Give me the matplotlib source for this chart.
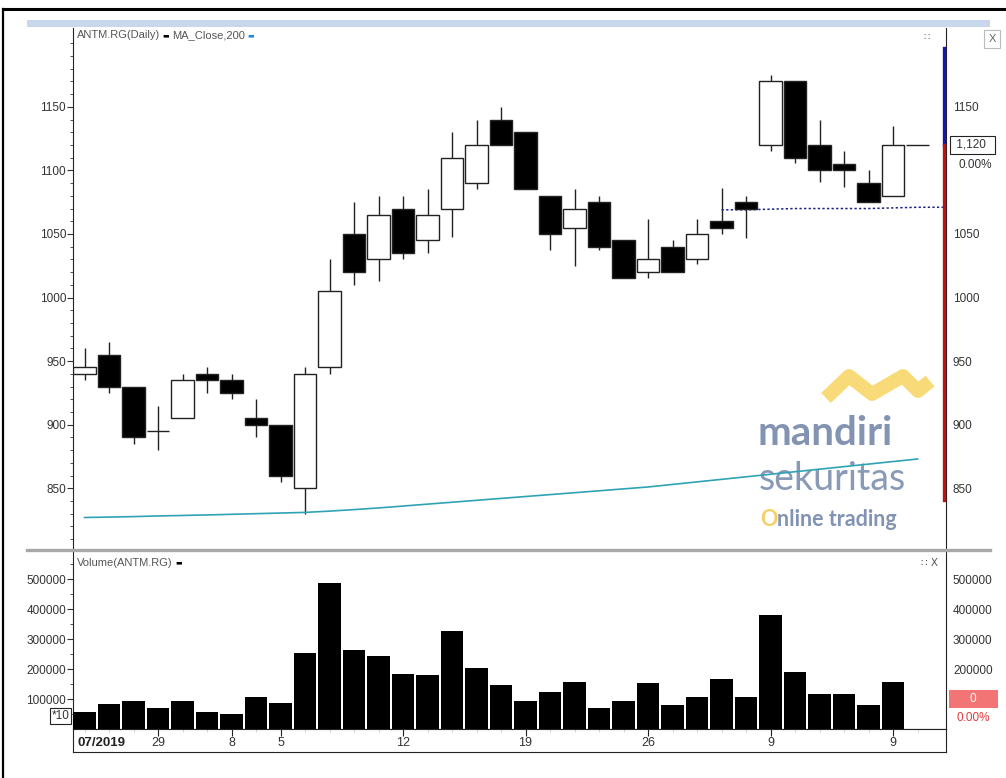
import matplotlib
matplotlib.use('Agg')
import numpy as np
import matplotlib.pyplot as plt
import matplotlib.transforms as mtransforms
from matplotlib.lines import Line2D
from matplotlib.patches import Rectangle

plt.rcParams['font.family'] = ['Liberation Sans Narrow', 'Liberation Sans', 'DejaVu Sans']

# daily candles, ANTM.RG (last slot = today, no trade yet)
opens = [940, 955, 930, 895, 905, 940, 935, 905, 900, 850, 945, 1050, 1030, 1070, 1045, 1070, 1090,
         1140, 1130, 1080, 1055, 1075, 1045, 1020, 1040, 1030, 1060, 1075, 1120, 1170, 1120, 1105,
         1090, 1080, 1120]
highs = [960, 965, 930, 915, 940, 945, 940, 920, 900, 945, 1030, 1075, 1080, 1080, 1085, 1130, 1140,
         1150, 1130, 1080, 1085, 1080, 1045, 1062, 1045, 1062, 1086, 1080, 1175, 1170, 1140, 1115,
         1100, 1135, 1120]
lows = [935, 925, 885, 880, 905, 925, 920, 890, 855, 830, 940, 1010, 1013, 1030, 1035, 1048, 1085,
        1120, 1085, 1037, 1025, 1037, 1015, 1015, 1020, 1026, 1050, 1047, 1115, 1106, 1091, 1087,
        1075, 1080, 1120]
closes = [945, 930, 890, 895, 935, 935, 925, 900, 860, 940, 1005, 1020, 1065, 1035, 1065, 1110, 1120,
          1120, 1085, 1050, 1070, 1040, 1015, 1030, 1020, 1050, 1055, 1070, 1170, 1110, 1100, 1100,
          1075, 1120, 1120]
volumes = [56000, 83000, 92000, 69000, 92000, 56000, 51000, 107000, 88000, 252000, 487000, 262000,
           243000, 183000, 179000, 327000, 203000, 148000, 92000, 124000, 157000, 69000, 92000,
           152000, 79000, 107000, 167000, 107000, 381000, 189000, 116000, 116000, 79000, 157000, 0]
ma200 = [827, 827.3, 827.7, 828.2, 828.6, 829, 829.5, 830, 830.5, 831, 832, 833.2, 834.5, 836,
         837.5, 839, 840.5, 842, 843.5, 845, 846.5, 848, 849.5, 851, 853, 855, 857, 859, 861, 863,
         865, 867, 869, 871, 873]
dotted_idx = [26, 27, 28, 29, 30, 31, 32, 33, 34, 35.1]
dotted_vals = [1069, 1069, 1069.5, 1070, 1070, 1070, 1070, 1070.5, 1071, 1071]

last_price = 1120
range_top = 1196
range_bottom = 841

date_ticks = [3, 6, 8, 13, 18, 23, 28, 33]
date_labels = ['29', '8', '5', '12', '19', '26', '9', '9']
price_ticks = [850, 900, 950, 1000, 1050, 1100, 1150]
vol_ticks = [100000, 200000, 300000, 400000, 500000]

W, H = 1006, 778
fig = plt.figure(figsize=(W / 100, H / 100), dpi=100)
fig.patch.set_facecolor('white')


def rect(x0, y0, x1, y1):
    # pixel box (from top-left) -> figure fractions
    return [x0 / W, 1 - y1 / H, (x1 - x0) / W, (y1 - y0) / H]


ax = fig.add_axes(rect(73, 28, 946, 548))
axv = fig.add_axes(rect(73, 552, 946, 729))
axd = fig.add_axes(rect(73, 729, 946, 752))

idx = np.arange(len(opens))
xlim = (-0.47, 35.16)
txt = '#333333'


def style_yaxis(a, major, minor, labels_left, labels_right):
    # ticks on both sides; right-hand labels come from a twin so some can stay hidden
    a.set_yticks(major)
    a.set_yticklabels(labels_left)
    a.set_yticks(minor, minor=True)
    a.tick_params(axis='y', which='both', left=True, right=True, direction='out',
                  labelsize=8.5, colors=txt, pad=1)
    a.tick_params(axis='y', which='major', length=4)
    a.tick_params(axis='y', which='minor', length=2)
    r = a.twinx()
    r.set_ylim(a.get_ylim())
    r.set_yticks(major)
    r.set_yticklabels(labels_right)
    r.tick_params(axis='y', which='both', length=0, labelsize=8.5, colors=txt, pad=5)
    for s in r.spines.values():
        s.set_visible(False)
    return r


# ---- price panel
for i in idx:
    o, h, l, c = opens[i], highs[i], lows[i], closes[i]
    ax.vlines(i, l, h, color='#222222', lw=1, zorder=2)
    fc = 'black' if c < o else 'white'
    ax.bar(i, abs(c - o), bottom=min(o, c), width=0.93, color=fc, edgecolor='#222222',
           lw=1, zorder=3)

ax.plot(idx, ma200, color='#2fa3b5', lw=1.2, zorder=2)
ax.plot(dotted_idx, dotted_vals, color='#1a237e', lw=1.1, ls=(0, (1.5, 1.5)), zorder=2,
        clip_on=False)

ax.set_xlim(*xlim)
ax.set_ylim(803, 1212)
ax.set_xticks([])
style_yaxis(ax, price_ticks, np.arange(810, 1210, 10), [str(p) for p in price_ticks],
            ['' if p == 1100 else str(p) for p in price_ticks])
for s in ['top', 'bottom']:
    ax.spines[s].set_visible(False)
for s in ['left', 'right']:
    ax.spines[s].set_color('#222222')

bt = mtransforms.blended_transform_factory(ax.transAxes, ax.transData)
ax.plot([0.998, 0.998], [range_top, last_price], transform=bt, color='#1515b0', lw=2.4,
        clip_on=False, zorder=5)
ax.plot([0.998, 0.998], [last_price, range_bottom], transform=bt, color='#c01010', lw=2.4,
        clip_on=False, zorder=5)
ax.text(1.008, last_price, f' {last_price:,}  ', transform=bt, ha='left', va='center',
        fontsize=8.5, color=txt, zorder=6,
        bbox=dict(boxstyle='square,pad=0.25', fc='white', ec='#222222', lw=0.8))
ax.text(1.014, 1104, '0.00%', transform=bt, ha='left', va='center', fontsize=8.5, color=txt,
        zorder=6)

# legend line
t1 = ax.text(0.004, 0.986, 'ANTM.RG(Daily)', transform=ax.transAxes, fontsize=8,
             color='#555555', va='center', ha='left')
t2 = ax.annotate('\u25ac', xy=(1, 0.5), xycoords=t1, xytext=(2, 0), textcoords='offset points',
                 va='center', ha='left', fontsize=5, color='black', family='DejaVu Sans')
t3 = ax.annotate('MA_Close,200', xy=(1, 0.5), xycoords=t2, xytext=(2, 0),
                 textcoords='offset points', va='center', ha='left', fontsize=8, color='#555555')
ax.annotate('\u25ac', xy=(1, 0.5), xycoords=t3, xytext=(2, 0), textcoords='offset points',
            va='center', ha='left', fontsize=5, color='#1e88e5', family='DejaVu Sans')
ax.text(0.978, 0.982, '\u2237', transform=ax.transAxes, fontsize=7, color='#666666',
        ha='center', va='center', family='DejaVu Sans')


# watermark
def axp(px, py):
    return ((px - 73) / 873, (548 - py) / 520)


wave_x = [826, 849, 872, 903, 918, 930]
wave_y = [398, 376, 394, 376, 391, 381]
wp = [axp(a, b) for a, b in zip(wave_x, wave_y)]
ax.plot([p[0] for p in wp], [p[1] for p in wp], transform=ax.transAxes, color='#f9d66b',
        lw=10, alpha=0.9, solid_joinstyle='round', solid_capstyle='butt', zorder=1)
wm = '#7588aa'
ax.text(*axp(758, 445), 'mandiri', transform=ax.transAxes, fontsize=29, color=wm,
        family='Lato', fontweight='bold', va='baseline', ha='left', zorder=1, alpha=0.9)
ax.text(*axp(759, 490), 'sekuritas', transform=ax.transAxes, fontsize=27, color=wm,
        family='Lato', fontweight='normal', va='baseline', ha='left', zorder=1, alpha=0.85)
o1 = ax.text(*axp(760, 526), 'O', transform=ax.transAxes, fontsize=15.5, color='#f5cf63',
             family='Lato', fontweight='bold', va='baseline', ha='left', zorder=1)
ax.annotate('nline trading', xy=(1, 0), xycoords=o1, xytext=(0, 0), textcoords='offset points',
            fontsize=15.5, color=wm, family='Lato', fontweight='bold', va='bottom', ha='left',
            zorder=1, alpha=0.9)

# ---- volume panel
axv.bar(idx, volumes, width=0.93, color='black', zorder=3)
axv.set_xlim(*xlim)
axv.set_ylim(0, 590000)
axv.set_xticks([])
style_yaxis(axv, vol_ticks, np.arange(50000, 590000, 50000), [str(v) for v in vol_ticks],
            ['' if v == 100000 else str(v) for v in vol_ticks])
axv.spines['top'].set_visible(False)
for s in ['left', 'right', 'bottom']:
    axv.spines[s].set_color('#222222')

vt = mtransforms.blended_transform_factory(axv.transAxes, axv.transData)
axv.add_patch(Rectangle((1.003, 70000), 0.056, 60000, transform=vt, fc='#f27474', ec='none',
                        clip_on=False, zorder=6))
axv.text(1.031, 100000, f'{volumes[-1]}', transform=vt, ha='center', va='center', fontsize=8.5,
         color='white', zorder=7)
axv.text(1.012, 37000, '0.00%', transform=vt, ha='left', va='center', fontsize=8.5,
         color='#e03c3c', zorder=7)
axv.text(-0.004, 43000, '*10', transform=vt, ha='right', va='center', fontsize=8.5, color=txt,
         zorder=7, bbox=dict(boxstyle='square,pad=0.15', fc='white', ec='#222222', lw=0.8))

v1 = axv.text(0.004, 0.94, 'Volume(ANTM.RG)', transform=axv.transAxes, fontsize=8,
              color='#555555', va='center', ha='left')
axv.annotate('\u25ac', xy=(1, 0.5), xycoords=v1, xytext=(2, 0), textcoords='offset points',
             va='center', ha='left', fontsize=5, color='black', family='DejaVu Sans')
axv.text(0.981, 0.94, '\u2237 X', transform=axv.transAxes, fontsize=7.5, color='#555555',
         ha='center', va='center', family='DejaVu Sans')

# ---- date strip
axd.set_xlim(*xlim)
axd.set_ylim(0, 1)
axd.set_yticks([])
axd.set_xticks(date_ticks)
axd.set_xticks(idx, minor=True)
axd.tick_params(axis='x', which='both', bottom=False, top=True, labelbottom=False, labeltop=False,
                direction='in')
axd.tick_params(axis='x', which='major', length=5, color='#222222')
axd.tick_params(axis='x', which='minor', length=2, color='#cccccc')
for s in axd.spines.values():
    s.set_color('#222222')
for xi, lab in zip(date_ticks, date_labels):
    axd.text(xi, 0.38, lab, ha='center', va='center', fontsize=9, color=txt)
axd.text(0.005, 0.38, '07/2019', transform=axd.transAxes, ha='left', va='center', fontsize=9.5,
         fontweight='bold', color='#222222')

# ---- window chrome
fig.add_artist(Rectangle((27 / W, 1 - 27 / H), (990 - 27) / W, 7 / H, transform=fig.transFigure,
                         fc='#c9d7ec', ec='none'))
fig.add_artist(Line2D([27 / W, 990 / W], [1 - 549.5 / H] * 2, color='#a8a8a8', lw=2.4))
fig.add_artist(Line2D([3 / W, 1], [1 - 9 / H] * 2, color='black', lw=2.2))
fig.add_artist(Line2D([3 / W, 3 / W], [0, 1 - 9 / H], color='black', lw=1.6))
fig.text(992 / W, 1 - 39 / H, 'X', fontsize=8, color='#666666', ha='center', va='center',
         bbox=dict(boxstyle='square,pad=0.4', fc='white', ec='#bbbbbb', lw=0.8))

fig.savefig('out.png', dpi=100)
